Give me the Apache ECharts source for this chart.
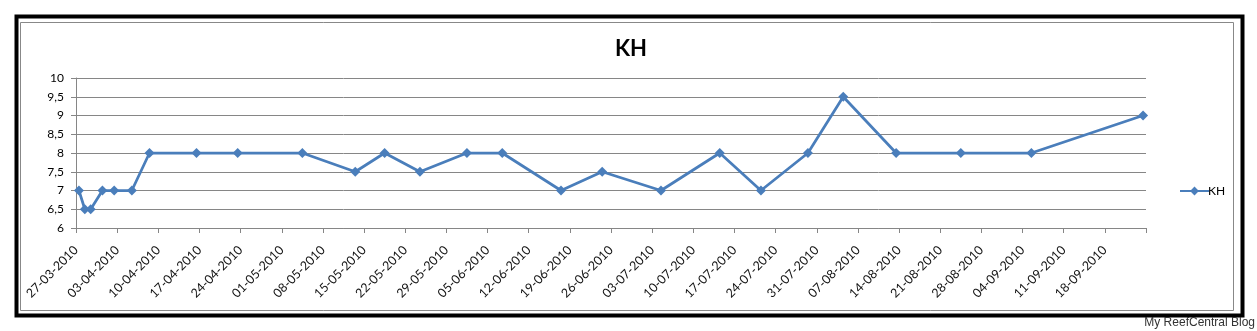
<!DOCTYPE html>
<html>
<head>
<meta charset="utf-8">
<script src="https://cdn.jsdelivr.net/npm/echarts@6/dist/echarts.min.js"></script>
<style>
html,body{margin:0;padding:0;background:#fff;}
#c{width:1257px;height:331px;}
</style>
</head>
<body>
<div id="c"></div>
<script>
// Data
const startDate = '27-03-2010';
const endDate = '25-09-2010';
const dates = ['27-03-2010','28-03-2010','29-03-2010','31-03-2010','02-04-2010','05-04-2010','08-04-2010',
  '16-04-2010','23-04-2010','04-05-2010','13-05-2010','18-05-2010','24-05-2010','01-06-2010','07-06-2010',
  '17-06-2010','24-06-2010','04-07-2010','14-07-2010','21-07-2010','29-07-2010','04-08-2010','13-08-2010',
  '24-08-2010','05-09-2010','24-09-2010'];
const kh = [7,6.5,6.5,7,7,7,8,8,8,8,7.5,8,7.5,8,8,7,7.5,7,8,7,8,9.5,8,8,8,9];
const seriesName = 'KH';
const titleText = 'KH';
const footerText = 'My ReefCentral Blog';

const DAY = 86400000;
function parseD(s){const p=s.split('-');return Date.UTC(+p[2],+p[1]-1,+p[0]);}
function fmtD(t){const d=new Date(t);const pad=n=>(n<10?'0':'')+n;return pad(d.getUTCDate())+'-'+pad(d.getUTCMonth()+1)+'-'+d.getUTCFullYear();}
const t0 = parseD(startDate);
const totalDays = Math.round((parseD(endDate)-t0)/DAY);
// Excel date axis places each day's point in the middle of the day
const seriesData = dates.map((d,i)=>[Math.round((parseD(d)-t0)/DAY)+0.5, kh[i]]);

const chart = echarts.init(document.getElementById('c'));
const FONT = 'Lato';
chart.setOption({
  animation:false,
  backgroundColor:'#fff',
  title:{text:titleText,left:626,top:33,textAlign:'center',
    textStyle:{fontFamily:FONT,fontSize:22,fontWeight:'bold',color:'#000'}},
  grid:{left:76,right:111,top:78,bottom:103,containLabel:false},
  legend:{left:1174,top:180,orient:'vertical',itemWidth:29,itemHeight:11,itemGap:4,
    textStyle:{fontFamily:FONT,fontSize:12,color:'#000',padding:[0,0,0,-6]},data:[seriesName]},
  xAxis:{type:'value',min:0,max:totalDays,interval:7,
    axisLine:{show:true,lineStyle:{color:'#868686',width:1}},
    axisTick:{show:true,length:5,lineStyle:{color:'#868686'}},
    splitLine:{show:false},
    axisLabel:{rotate:45,margin:20,fontFamily:FONT,fontSize:12.5,color:'#111',
      showMaxLabel:true,
      formatter:function(v){ if(v>=totalDays) return ''; return fmtD(t0+v*DAY);} }},
  yAxis:{type:'value',min:6,max:10,interval:0.5,
    axisLine:{show:true,lineStyle:{color:'#868686',width:1}},
    axisTick:{show:true,length:5,lineStyle:{color:'#868686'}},
    splitLine:{show:true,lineStyle:{color:'#868686',width:1}},
    axisLabel:{margin:12,fontFamily:FONT,fontSize:12,color:'#000',
      formatter:function(v){return String(v).replace('.',',');}}},
  series:[{name:seriesName,type:'line',data:seriesData,symbol:'diamond',symbolSize:10,
    lineStyle:{color:'#4A7EBB',width:2.75},itemStyle:{color:'#4A7EBB'}}],
  graphic:[
    {type:'rect',shape:{x:20.5,y:22.5,width:1213,height:288},style:{fill:null,stroke:'#888',lineWidth:1},z:-1},
    {type:'rect',shape:{x:16.5,y:16.5,width:1226,height:299},style:{fill:null,stroke:'#000',lineWidth:4}},
    {type:'text',right:2,top:317,style:{text:footerText,fontFamily:'Liberation Sans',fontSize:12,fill:'#333'}}
  ]
});
</script>
</body>
</html>
